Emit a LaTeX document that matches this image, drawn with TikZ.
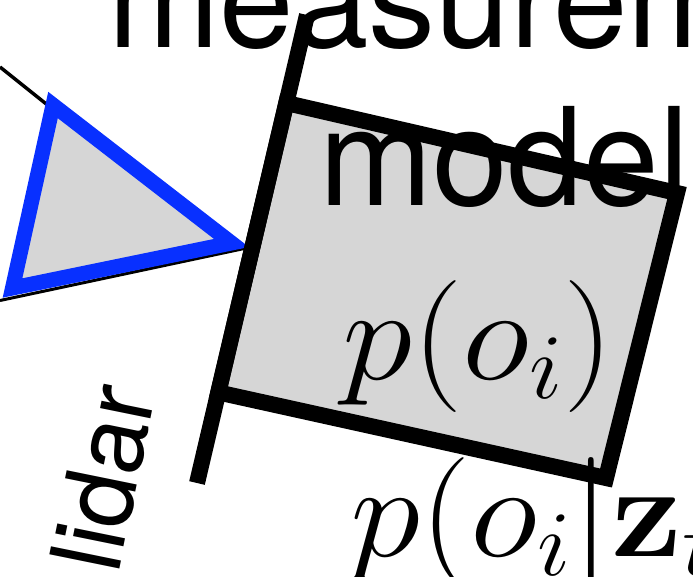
\RequirePackage{fix-cm}
\documentclass[tikz,border=0pt]{standalone}
\usepackage[no-math]{fontspec}
\setmainfont{TeX Gyre Heros}
\definecolor{boxgray}{RGB}{214,214,214}
\definecolor{triblue}{RGB}{8,48,255}
\tikzset{
  txt/.style={inner sep=0pt, outer sep=0pt},
  thinwire/.style={draw=black, line width=3.5pt},
  tribox/.style={draw=triblue, fill=boxgray, line width=15pt, line join=miter},
  modelbox/.style={draw=black, fill=boxgray, line width=16pt, line join=miter},
  bar/.style={draw=black, line width=16pt, line cap=butt}
}
\begin{document}
\begin{tikzpicture}[x=1pt,y=-1pt]
\useasboundingbox (0,0) rectangle (693,576);
\clip (0,0) rectangle (693,576);
% named points
\coordinate (w1a) at (0,67);
\coordinate (w2a) at (0,300.5);
\coordinate (tT) at (53,105);
\coordinate (tR) at (231.5,243);
\coordinate (tL) at (12.5,288);
\coordinate (tRo) at (249,247.5);
\coordinate (w1b) at (55,111);
\coordinate (TL) at (286.3,103);
\coordinate (TR) at (677,193);
\coordinate (BR) at (606,478);
\coordinate (BL) at (218.3,392.4);
\coordinate (ltop) at (307,15);
\coordinate (lbot) at (197,483);
% connectors into the triangle
\draw[thinwire] (w1a) -- (w1b);
\draw[thinwire, line width=3pt] (w2a) -- (tRo);
% triangle
\draw[tribox] (tT) -- (tR) -- (tL) -- cycle;
% measurement model box
\draw[modelbox] (TL) -- (TR) -- (BR) -- (BL) -- cycle;
\draw[bar] (ltop) -- (lbot);
% texts
\node[txt, anchor=base west] (meas) at (108,47) {\fontsize{134}{134}\selectfont measurement};
\node[txt, anchor=base west] (model) at (319,205) {\fontsize{136}{136}\selectfont model};
\node[txt, anchor=base west, xscale=1.08] (po) at (342,379) {\fontsize{132}{132}\selectfont $p(o_i)$};
\node[txt, anchor=base west, xscale=1.08] (poz) at (350,556) {\fontsize{132}{132}\selectfont $p(o_i|\mathbf{z}_t)$};
\node[txt, anchor=base west, rotate=78.5] (lidar) at (118.6,575) {\fontsize{98}{98}\selectfont lidar};
\end{tikzpicture}
\end{document}
